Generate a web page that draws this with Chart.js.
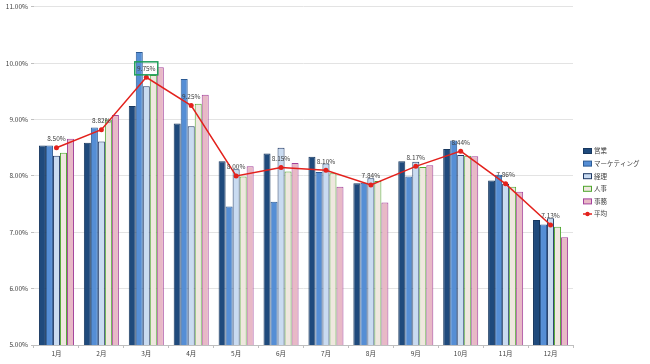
<!DOCTYPE html>
<html>
<head>
<meta charset="utf-8">
<script src="https://cdn.jsdelivr.net/npm/chart.js@4.4.1/dist/chart.umd.min.js"></script>
<style>
html, body { margin: 0; padding: 0; background: #fff; }
#wrap { width: 650px; height: 364px; }
</style>
</head>
<body>
<div id="wrap"><canvas id="chart"></canvas></div>
<script>
// values (percent)
var months = ['1月', '2月', '3月', '4月', '5月', '6月', '7月', '8月', '9月', '10月', '11月', '12月'];
var eigyo     = [8.54, 8.59, 9.24, 8.93, 8.26, 8.40, 8.34, 7.87, 8.26, 8.48, 7.92, 7.22];
var marketing = [8.54, 8.86, 10.20, 9.72, 7.46, 7.54, 8.07, 7.88, 7.99, 8.63, 8.02, 7.14];
var keiri     = [8.36, 8.61, 9.59, 8.88, 8.12, 8.50, 8.22, 7.96, 8.25, 8.37, 7.86, 7.25];
var jinji     = [8.41, 9.00, 9.79, 9.28, 7.99, 8.08, 8.05, 7.91, 8.16, 8.36, 7.81, 7.10];
var jimu      = [8.66, 9.08, 9.93, 9.44, 8.17, 8.23, 7.81, 7.53, 8.19, 8.35, 7.72, 6.91];
var heikin    = [8.50, 8.82, 9.75, 9.25, 8.00, 8.15, 8.10, 7.84, 8.17, 8.44, 7.86, 7.13];
var yTicks = [5, 6, 7, 8, 9, 10, 11];

var FONT = "'Noto Sans CJK JP', 'Noto Sans', sans-serif";

var series = [
    { label: '営業', data: eigyo, fill: '#1f4a7c', border: '#17375e' },
    { label: 'マーケティング', data: marketing, fill: '#558ed5', border: '#2b5a94' },
    { label: '経理', data: keiri, fill: '#c9dbf1', border: '#1f3864' },
    { label: '人事', data: jinji, fill: '#efe7df', border: '#4ea72e' },
    { label: '事務', data: jimu, fill: '#e8b9c6', border: '#a3429c' }
];

var datasets = series.map(function (s) {
    return {
        type: 'bar',
        label: s.label,
        data: s.data,
        backgroundColor: s.fill,
        borderColor: s.border,
        borderWidth: 1,
        categoryPercentage: 0.78,
        barPercentage: 1.0,
        order: 1
    };
});
datasets.push({
    type: 'line',
    label: '平均',
    data: heikin,
    borderColor: '#e3211c',
    backgroundColor: '#e3211c',
    borderWidth: 1.5,
    pointRadius: 2.5,
    pointBackgroundColor: '#e3211c',
    pointBorderWidth: 0,
    tension: 0,
    order: 0
});

// data labels on the average line
var avgLabels = {
    id: 'avgLabels',
    afterDatasetsDraw: function (chart) {
        var ctx = chart.ctx;
        var idx = chart.data.datasets.length - 1;
        var meta = chart.getDatasetMeta(idx);
        ctx.save();
        ctx.font = '6.5px ' + FONT;
        ctx.fillStyle = '#404040';
        ctx.textAlign = 'center';
        ctx.textBaseline = 'middle';
        meta.data.forEach(function (pt, i) {
            var txt = heikin[i].toFixed(2) + '%';
            ctx.fillText(txt, pt.x, pt.y - 9);
            if (i === 2) {
                ctx.strokeStyle = '#1e9e5a';
                ctx.lineWidth = 1.5;
                ctx.strokeRect(pt.x - 11.5, pt.y - 15.5, 23, 13);
            }
        });
        ctx.restore();
    }
};

// legend on the right like the original
var sideLegend = {
    id: 'sideLegend',
    afterDraw: function (chart) {
        var ctx = chart.ctx;
        var x = 583, y0 = 151, step = 12.6;
        ctx.save();
        ctx.font = '6.5px ' + FONT;
        ctx.textBaseline = 'middle';
        ctx.textAlign = 'left';
        series.forEach(function (s, i) {
            var y = y0 + i * step;
            ctx.fillStyle = s.fill;
            ctx.fillRect(x, y - 2.5, 9, 5);
            ctx.strokeStyle = s.border;
            ctx.lineWidth = 1;
            ctx.strokeRect(x + 0.5, y - 2.5, 8, 5);
            ctx.fillStyle = '#404040';
            ctx.fillText(s.label, x + 11, y);
        });
        var yl = y0 + series.length * step;
        ctx.strokeStyle = '#e3211c';
        ctx.lineWidth = 1.5;
        ctx.beginPath();
        ctx.moveTo(x, yl);
        ctx.lineTo(x + 9, yl);
        ctx.stroke();
        ctx.fillStyle = '#e3211c';
        ctx.beginPath();
        ctx.arc(x + 4.5, yl, 2.2, 0, Math.PI * 2);
        ctx.fill();
        ctx.fillStyle = '#404040';
        ctx.fillText('平均', x + 11, yl);
        ctx.restore();
    }
};

var chart = new Chart(document.getElementById('chart'), {
    data: {
        labels: months,
        datasets: datasets
    },
    options: {
        responsive: true,
        maintainAspectRatio: false,
        animation: false,
        layout: {
            padding: { top: 4, right: 77, bottom: 0, left: 0 }
        },
        plugins: {
            legend: { display: false },
            tooltip: { enabled: false }
        },
        scales: {
            x: {
                grid: {
                    display: true,
                    offset: true,
                    drawOnChartArea: false,
                    drawTicks: true,
                    tickLength: 3,
                    color: '#bfbfbf'
                },
                border: { color: '#bfbfbf' },
                ticks: {
                    color: '#404040',
                    font: { family: FONT, size: 6.5 },
                    padding: 2,
                    maxRotation: 0
                },
                afterFit: function (s) { s.height = 19; }
            },
            y: {
                min: yTicks[0],
                max: yTicks[yTicks.length - 1],
                afterBuildTicks: function (s) {
                    s.ticks = yTicks.map(function (v) { return { value: v }; });
                },
                grid: {
                    color: '#e3e3e3',
                    drawTicks: true,
                    tickLength: 3,
                    tickColor: '#bfbfbf'
                },
                border: { display: false },
                ticks: {
                    color: '#404040',
                    font: { family: FONT, size: 6.5 },
                    padding: 3,
                    callback: function (v) { return v.toFixed(2) + '%'; }
                },
                afterFit: function (s) { s.width = 34; }
            }
        }
    },
    plugins: [avgLabels, sideLegend]
});
</script>
</body>
</html>
